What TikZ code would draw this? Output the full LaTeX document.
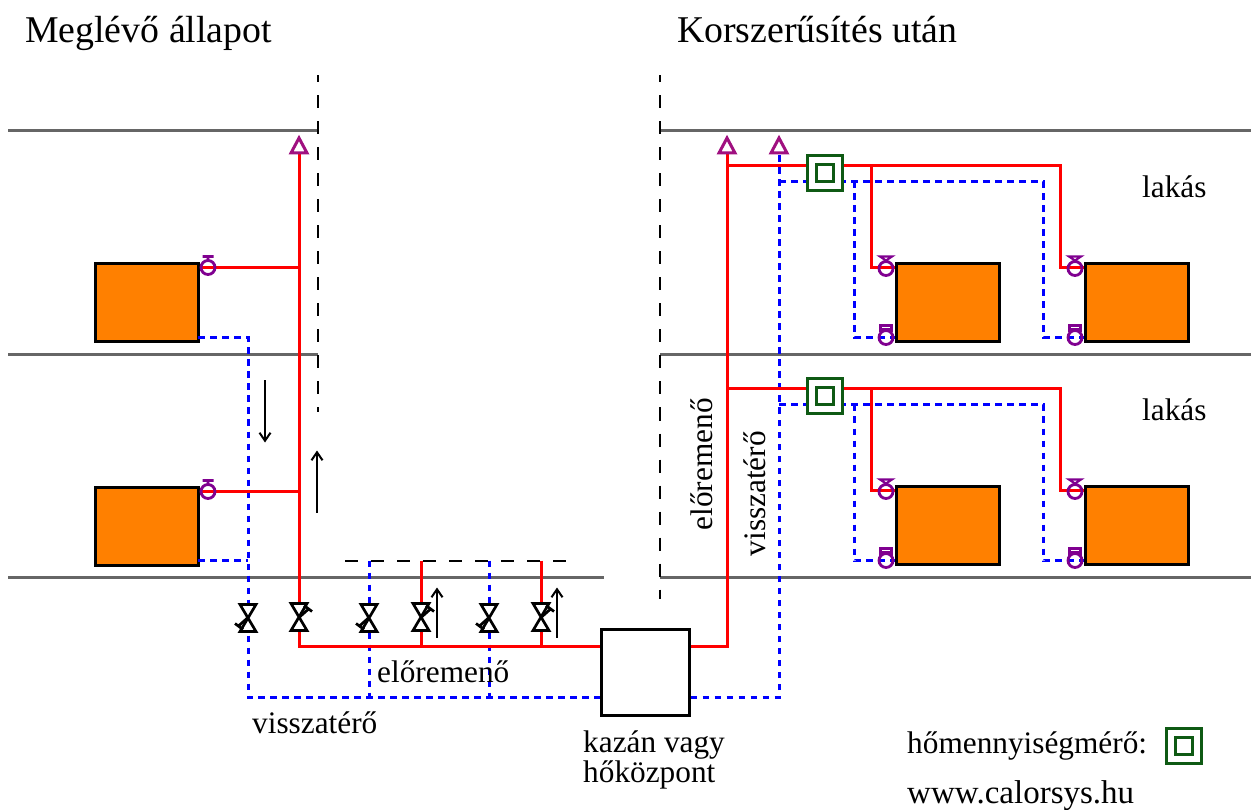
\documentclass[tikz,border=0pt]{standalone}
\usepackage{fontspec}
\setmainfont{Liberation Serif}
\usetikzlibrary{calc,arrows.meta}

\definecolor{wallgray}{HTML}{666666}
\definecolor{valvepurple}{HTML}{800090}
\definecolor{ventpurple}{HTML}{A01080}
\definecolor{meteredge}{HTML}{0F5A14}
\definecolor{radorange}{HTML}{FF8000}

\tikzset{
    floorline/.style={draw=wallgray, line width=3pt},
    flow/.style={draw=red, line width=3pt},
    return/.style={draw=blue, line width=3pt, dash pattern=on 6.5pt off 5.5pt},
    cutline/.style={draw=black, line width=2pt, dash pattern=on 13pt off 13pt, dash phase=6pt},
    radiator/.style={draw=black, fill=radorange, line width=3pt, minimum width=103pt, minimum height=78pt, inner sep=0pt},
    heatbox/.style={draw=black, fill=white, line width=3pt, minimum width=88pt, minimum height=86pt, inner sep=0pt},
    lbl/.style={inner sep=0pt, anchor=base west, font=\fontsize{31.3}{31.3}\selectfont},
    title/.style={inner sep=0pt, anchor=base west, font=\fontsize{37.8}{37.8}\selectfont},
    pics/stopvalve/.style={code={
        \draw[black, fill=white, line width=2.7pt, line join=miter] (-8,-14) -- (8,-14) -- (-8,13) -- (8,13) -- cycle;
        \draw[black, line width=2.7pt] (0,0) -- (9,-8) (5,-12) -- (13,-6);
    }},
    pics/topvent/.style={code={
        \draw[ventpurple, fill=white, line width=3pt] (0,-9.5) -- (8,5.5) -- (-8,5.5) -- cycle;
    }},
    pics/tvalve/.style={code={
        \draw[valvepurple, line width=2.8pt] (0,0) circle (7) (0,-7) -- (0,-11) (-5.5,-11) -- (5.5,-11);
    }},
    pics/bowvalve/.style={code={
        \draw[valvepurple, line width=2.8pt] (0,1) circle (7);
        \draw[valvepurple, line width=2.2pt] (-3,-5) -- (6,-11) -- (-6,-11) -- (3,-5);
    }},
    pics/lockvalve/.style={code={
        \draw[valvepurple, line width=2.8pt] (0,0) circle (7);
        \draw[valvepurple, line width=2.2pt] (-5.5,-5) -- (-5.5,-12) -- (5.5,-12) -- (5.5,-5) (-5.5,-8) -- (5.5,-8);
    }},
    pics/heatmeter/.style={code={
        \draw[meteredge, fill=white, line width=3pt] (-17.5,-17.5) rectangle (17.5,17.5);
        \draw[meteredge, line width=3pt] (-8.5,-8.5) rectangle (8.5,8.5);
    }},
}

\begin{document}
\begin{tikzpicture}[x=1pt, y=-1pt, >={Straight Barb[length=8pt,width=11pt]}]
    \useasboundingbox (0,-0.5) rectangle (1251,809.5);

    % walls and cut lines
    \foreach \y in {130,354} {
        \coordinate (wl\y) at (8,\y);
        \coordinate (wm\y) at (318,\y);
    }
    \coordinate (wl577) at (8,577);
    \coordinate (wm577) at (604,577);
    \foreach \y in {130,354,577} {
        \coordinate (wr\y) at (660,\y);
        \coordinate (we\y) at (1251,\y);
        \draw[floorline] (wl\y) -- (wm\y);
        \draw[floorline] (wr\y) -- (we\y);
    }
    \coordinate (cutA) at (318,75);
    \coordinate (cutB) at (318,412);
    \coordinate (cutC) at (660,75);
    \coordinate (cutD) at (660,598);
    \coordinate (cutE) at (345,560);
    \coordinate (cutF) at (566,560);
    \draw[cutline] (cutA) -- (cutB);
    \draw[cutline] (cutC) -- (cutD);
    \draw[cutline, dash phase=0pt] (cutE) -- (cutF);

    \node[heatbox] (boiler) at (645,672) {};

    % old building, left
    \node[radiator] (radL1) at (146.5,302) {};
    \node[radiator] (radL2) at (146.5,526) {};
    \coordinate (ventL) at (299,147);
    \coordinate (riserB) at (299,646);
    \coordinate (teeL1) at (299,267);
    \coordinate (teeL2) at (299,491);
    \coordinate (tvL1) at (208,267);
    \coordinate (tvL2) at (208,491);
    \coordinate (retL) at (248,697);
    \coordinate (retL1) at (198,337);
    \coordinate (retL2) at (198,560);
    \coordinate (upperA) at (421,560);
    \coordinate (upperB) at (541,560);
    \coordinate (lowerA) at (421,646);
    \coordinate (lowerB) at (541,646);
    \coordinate (downA) at (369,560);
    \coordinate (downB) at (489,560);
    \coordinate (baseA) at (369,697);
    \coordinate (baseB) at (489,697);

    \draw[return] (retL1) -| (retL) -- (retL -| boiler.west);
    \draw[return] (retL2) -- (retL2 -| retL);
    \draw[return] (downA) -- (baseA);
    \draw[return] (downB) -- (baseB);
    \draw[flow] (ventL) -- (riserB) -- (riserB -| boiler.west);
    \draw[flow] (radL1.east |- teeL1) -- (teeL1);
    \draw[flow] (radL2.east |- teeL2) -- (teeL2);
    \draw[flow] (upperA) -- (lowerA);
    \draw[flow] (upperB) -- (lowerB);

    % new system, right
    \coordinate (ventF) at (727,147);
    \coordinate (ventR) at (779,147);
    \coordinate (outF) at (727,646);
    \coordinate (outR) at (779,697);
    \draw[return] (boiler.east |- outR) -- (outR) -- (ventR);
    \draw[flow] (boiler.east |- outF) -- (outF) -- (ventF);

    \foreach \f/\dy in {A/0,B/223} {
        \node[radiator] (radN\f) at (948,302+\dy) {};
        \node[radiator] (radF\f) at (1137,302+\dy) {};
        \coordinate (flowS\f) at (727,165+\dy);
        \coordinate (flowE\f) at (1060,165+\dy);
        \coordinate (flowT\f) at (871,165+\dy);
        \coordinate (hotN\f) at (871,267+\dy);
        \coordinate (hotF\f) at (1060,267+\dy);
        \coordinate (retS\f) at (779,181+\dy);
        \coordinate (retE\f) at (1043,181+\dy);
        \coordinate (retT\f) at (854,181+\dy);
        \coordinate (coldN\f) at (854,337+\dy);
        \coordinate (coldF\f) at (1043,337+\dy);
        \coordinate (meter\f) at (825,173+\dy);
        \draw[return] (retS\f) -- (retE\f) -- (coldF\f) -- (coldF\f -| radF\f.west);
        \draw[return] (retT\f) -- (coldN\f) -- (coldN\f -| radN\f.west);
        \draw[flow] (flowS\f) -- (flowE\f) -- (hotF\f) -- (hotF\f -| radF\f.west);
        \draw[flow] (flowT\f) -- (hotN\f) -- (hotN\f -| radN\f.west);
        \pic at (meter\f) {heatmeter};
        \pic at (hotN\f -| 886,0) {bowvalve};
        \pic at (hotF\f -| 1075,0) {bowvalve};
        \pic at (coldN\f -| 886,0) {lockvalve};
        \pic at (coldF\f -| 1075,0) {lockvalve};
    }

    \pic at (ventL) {topvent};
    \pic at (ventF) {topvent};
    \pic at (ventR) {topvent};
    \pic at (tvL1) {tvalve};
    \pic at (tvL2) {tvalve};
    \foreach \x in {299,421,541} {
        \pic at (\x,617) {stopvalve};
    }
    \foreach \x in {248,369,489} {
        \pic[rotate=180] at (\x,617) {stopvalve};
    }

    % flow direction
    \coordinate (dirA) at (265,380);
    \coordinate (dirB) at (265,442);
    \coordinate (dirC) at (317,512);
    \coordinate (dirD) at (317,450);
    \coordinate (dirE) at (437,637);
    \coordinate (dirF) at (437,587);
    \coordinate (dirG) at (557,637);
    \coordinate (dirH) at (557,587);
    \draw[->, line width=2pt] (dirA) -- (dirB);
    \draw[->, line width=2pt] (dirC) -- (dirD);
    \draw[->, line width=2pt] (dirE) -- (dirF);
    \draw[->, line width=2pt] (dirG) -- (dirH);

    % texts
    \node[title] (titleL) at (25,42) {Meglévő állapot};
    \node[title] (titleR) at (677,42) {Korszerűsítés után};
    \node[lbl] (flatA) at (1142,197) {lakás};
    \node[lbl] (flatB) at (1142,420) {lakás};
    \node[lbl] (forward) at (377,682) {előremenő};
    \node[lbl] (backward) at (252,733) {visszatérő};
    \node[lbl, rotate=90] (forwardV) at (712,530) {előremenő};
    \node[lbl, rotate=90] (backwardV) at (765,556) {visszatérő};
    \node[lbl] (boilerA) at (583,752) {kazán vagy};
    \node[lbl] (boilerB) at (583,782) {hőközpont};
    \node[lbl] (legend) at (907,753) {hőmennyiségmérő:};
    \node[lbl, font=\fontsize{33}{33}\selectfont] (website) at (907,803) {www.calorsys.hu};
    \pic at (1184,745) {heatmeter};
\end{tikzpicture}
\end{document}
